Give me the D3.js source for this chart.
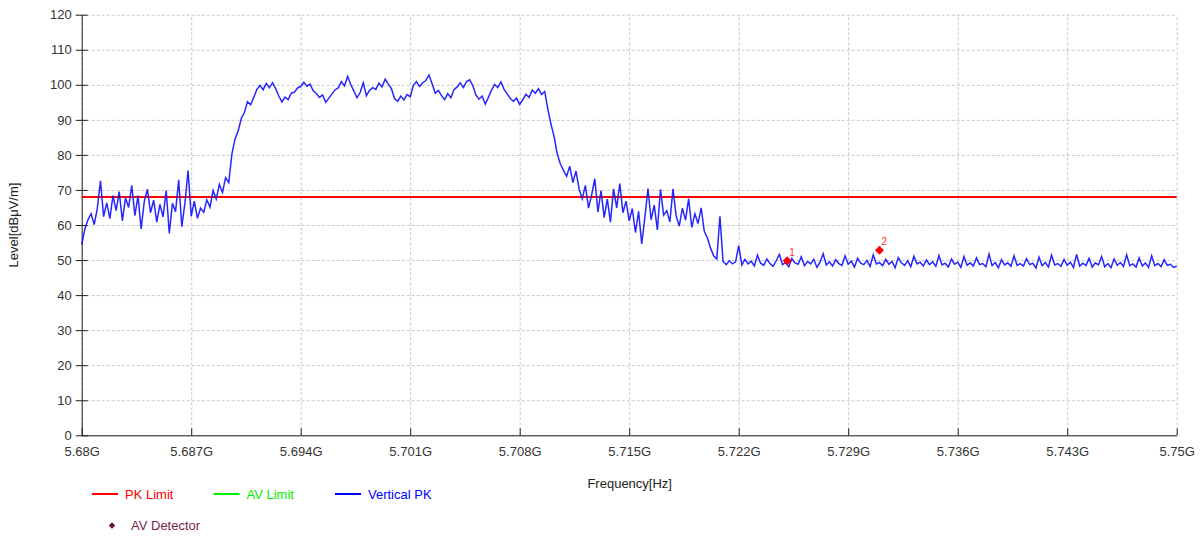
<!DOCTYPE html>
<html>
<head>
<meta charset="utf-8">
<script src="https://cdn.jsdelivr.net/npm/d3@7/dist/d3.min.js"></script>
<style>
  body { margin: 0; background: #fff; }
  svg { font-family: Arial, "Liberation Sans", sans-serif; }
</style>
</head>
<body>
<script>
// sweep: 5.680 GHz .. 5.750 GHz, one reading every 0.2 MHz
var sweepStart = 5.68;
var sweepStep = 0.0002;

// Vertical PK trace [dBuV/m]
var verticalPK = [
  54.5, 58.8, 61.5, 63.2, 60.1, 64.8, 72.6, 62.4, 66.3, 61.8,
  68.4, 64.1, 69.5, 61.2, 67.8, 65.0, 71.3, 62.7, 68.4, 58.9,
  66.7, 70.2, 63.5, 67.1, 60.8, 65.9, 62.3, 69.8, 57.6, 66.2,
  63.8, 72.9, 59.5, 66.3, 75.5, 62.5, 66.8, 61.9, 64.8, 63.6,
  67.2, 65.1, 69.8, 67.4, 71.6, 69.3, 73.5, 72.1, 80.2, 84.5,
  86.8, 90.4, 92.1, 95.2, 94.3, 96.4, 98.7, 99.8, 98.6, 100.4,
  99.2, 100.6, 98.9, 96.8, 95.1, 96.5, 95.8, 97.6, 97.9, 99.1,
  99.5, 100.7, 99.6, 100.2, 98.3, 97.5, 96.4, 97.1, 95.0, 96.2,
  97.4, 98.6, 99.1, 100.9, 99.7, 102.4, 100.1, 98.2, 96.3, 97.8,
  100.6, 96.9, 98.4, 99.2, 98.7, 100.5, 99.4, 101.6, 100.2, 98.9,
  96.1, 95.3, 96.8, 95.7, 97.2, 96.6, 99.8, 100.9, 99.5, 100.6,
  101.2, 102.8, 100.3, 97.6, 98.4, 96.9, 95.8, 97.5, 96.3, 98.6,
  99.4, 100.6, 99.2, 100.9, 101.4, 99.8, 97.1, 95.9, 96.8, 94.5,
  96.4, 98.5, 100.1, 99.2, 100.8, 98.7, 97.4, 96.1, 95.3, 96.2,
  94.4, 95.8, 97.3, 96.4, 98.5, 97.6, 98.9, 97.2, 98.1, 93.0,
  88.8, 85.2, 80.3, 77.4, 75.6, 73.9, 76.8, 72.1, 75.4, 70.2,
  67.5, 71.3, 64.8, 68.6, 73.2, 63.7, 69.8, 62.1, 67.4, 60.8,
  70.3, 64.9, 71.8, 63.5, 66.8, 61.2, 64.7, 57.8, 63.9, 54.6,
  62.1, 70.4, 61.5, 65.7, 58.6, 70.2, 62.8, 64.1, 60.9, 70.3,
  62.6, 59.7, 64.8, 61.4, 67.5, 59.3, 63.2, 60.4, 64.9, 58.2,
  56.3, 53.4, 51.2, 50.3, 62.5, 49.6, 48.7, 49.8, 48.9, 49.5,
  54.1, 48.6, 50.2, 48.9, 49.7, 48.3, 51.4, 49.1, 48.5, 50.3,
  49.0, 48.2, 49.8, 51.6, 48.7, 49.3, 48.1, 50.4, 49.2, 48.8,
  50.9, 48.4, 49.6, 48.9, 50.2, 47.9, 49.4, 51.8, 48.6, 49.5,
  48.3, 50.1, 49.0, 48.5, 51.2, 48.8, 49.7, 48.0, 50.5, 49.1,
  48.7, 49.9, 48.2, 51.5, 48.9, 49.3, 48.4, 50.2, 48.8, 49.6,
  47.8, 50.7, 49.2, 48.5, 49.8, 48.1, 51.1, 48.9, 49.4, 48.3,
  50.0, 48.7, 49.5, 48.2, 51.3, 48.6, 49.1, 48.0, 50.3, 48.8,
  49.4, 47.9, 51.0, 48.5, 49.2, 48.3, 50.6, 48.7, 49.0, 48.1,
  51.7, 48.4, 49.3, 47.8, 50.1, 48.6, 49.2, 48.2, 51.2, 48.5,
  49.0, 48.3, 50.4, 48.7, 49.1, 47.7, 50.8, 48.4, 49.3, 48.0,
  51.4, 48.6, 49.0, 48.2, 50.2, 48.5, 49.4, 47.9, 51.6, 48.3,
  49.1, 48.4, 50.5, 48.0, 49.2, 48.6, 51.0, 48.1, 49.0, 47.8,
  50.3, 48.5, 49.3, 48.2, 51.5, 48.4, 48.9, 48.0, 50.6, 48.3,
  49.2, 47.9, 51.2, 48.4, 49.0, 48.1, 50.1, 48.5, 48.8, 47.9,
  48.3
];

var pkLimit = 68;

var markerFreqs = [5.7251, 5.7310];
var markerLevels = [49.8, 52.8];
var markerNames = ["1", "2"];

var xTicks = [5.68, 5.687, 5.694, 5.701, 5.708, 5.715, 5.722, 5.729, 5.736, 5.743, 5.75];
var xTickLabels = ["5.68G", "5.687G", "5.694G", "5.701G", "5.708G", "5.715G", "5.722G", "5.729G", "5.736G", "5.743G", "5.75G"];
var yTicks = [0, 10, 20, 30, 40, 50, 60, 70, 80, 90, 100, 110, 120];

var legendNames = ["PK Limit", "AV Limit", "Vertical PK"];
var legendColors = ["#ff0000", "#00ee00", "#0000ff"];

(function() {

    var W = 1201, H = 536;
    var plotLeft = 81.7, plotRight = 1176.7, plotTop = 14.7, plotBottom = 435.3;

    var svg = d3.select("body").append("svg")
        .attr("width", W)
        .attr("height", H);

    var x = d3.scaleLinear().domain([5.68, 5.75]).range([plotLeft, plotRight]);
    var y = d3.scaleLinear().domain([0, 120]).range([plotBottom, plotTop]);

    // grid
    svg.append("g")
        .attr("transform", "translate(0," + plotBottom + ")")
        .call(d3.axisBottom(x).tickValues(xTicks).tickSize(-(plotBottom - plotTop)).tickFormat(""))
        .call(function(g) {
            g.select(".domain").remove();
            g.selectAll("line").attr("stroke", "#c8c8c8").attr("stroke-dasharray", "3,2");
        });
    svg.append("g")
        .attr("transform", "translate(" + plotLeft + ",0)")
        .call(d3.axisLeft(y).tickValues(yTicks).tickSize(-(plotRight - plotLeft)).tickFormat(""))
        .call(function(g) {
            g.select(".domain").remove();
            g.selectAll("line").attr("stroke", "#c8c8c8").attr("stroke-dasharray", "3,2");
        });

    // axes
    var yAxis = svg.append("g")
        .attr("transform", "translate(" + plotLeft + ",0)")
        .call(d3.axisLeft(y).tickValues(yTicks).tickSizeInner(6).tickSizeOuter(0).tickPadding(4));
    yAxis.selectAll(".tick line").attr("x2", 6).attr("x1", -6);

    var xAxis = svg.append("g")
        .attr("transform", "translate(0," + plotBottom + ")")
        .call(d3.axisBottom(x).tickValues(xTicks).tickSizeOuter(0).tickSizeInner(0).tickPadding(11)
            .tickFormat(function(d, i) { return xTickLabels[i]; }));
    xAxis.selectAll(".tick line").attr("y1", -7).attr("y2", 0);

    svg.selectAll(".domain").attr("stroke", "#222");
    svg.selectAll(".tick line").filter(function() { return !this.getAttribute("stroke-dasharray"); })
        .attr("stroke", "#222");
    svg.selectAll(".tick text").attr("font-size", 13).attr("fill", "#333")
        .attr("font-family", "Arial, 'Liberation Sans', sans-serif");

    // limit line
    svg.append("line")
        .attr("x1", x(5.68)).attr("x2", x(5.75))
        .attr("y1", y(pkLimit)).attr("y2", y(pkLimit))
        .attr("stroke", "#ff0000")
        .attr("stroke-width", 2);

    // trace
    var line = d3.line()
        .x(function(d, i) { return x(sweepStart + i * sweepStep); })
        .y(function(d) { return y(d); });

    svg.append("path")
        .datum(verticalPK)
        .attr("d", line)
        .attr("fill", "none")
        .attr("stroke", "#0000ff")
        .attr("stroke-opacity", 0.85)
        .attr("stroke-width", 1.5);

    // markers
    var mk = svg.selectAll(".marker").data(markerFreqs).enter().append("g")
        .attr("class", "marker")
        .attr("transform", function(d, i) { return "translate(" + x(d) + "," + y(markerLevels[i]) + ")"; });
    mk.append("path")
        .attr("d", d3.symbol().type(d3.symbolSquare).size(40))
        .attr("transform", "rotate(45)")
        .attr("fill", "#ff0000");
    mk.append("text")
        .attr("x", 2).attr("y", -5)
        .attr("font-size", 10)
        .attr("fill", "#ff3030")
        .text(function(d, i) { return markerNames[i]; });

    // axis titles
    svg.append("text")
        .attr("x", (plotLeft + plotRight) / 2 + 0.5)
        .attr("y", 488)
        .attr("text-anchor", "middle")
        .attr("font-size", 13)
        .attr("fill", "#222")
        .text("Frequency[Hz]");

    svg.append("text")
        .attr("transform", "translate(18," + ((plotTop + plotBottom) / 2) + ") rotate(-90)")
        .attr("text-anchor", "middle")
        .attr("font-size", 13)
        .attr("fill", "#222")
        .text("Level[dB\u03bcV/m]");

    // legend
    var lg = svg.selectAll(".lg").data(legendNames).enter().append("g")
        .attr("class", "lg")
        .attr("transform", function(d, i) { return "translate(" + (92 + i * 121.5) + ",494)"; });
    lg.append("line")
        .attr("x1", 0).attr("x2", 26)
        .attr("stroke", function(d, i) { return legendColors[i]; })
        .attr("stroke-width", 2);
    lg.append("text")
        .attr("x", 33).attr("y", 4.5)
        .attr("font-size", 13)
        .attr("fill", function(d, i) { return legendColors[i]; })
        .text(function(d) { return d; });

    var av = svg.append("g").attr("transform", "translate(112,525.5)");
    av.append("path")
        .attr("d", d3.symbol().type(d3.symbolSquare).size(20))
        .attr("transform", "rotate(45)")
        .attr("fill", "#6b0f3a");
    av.append("text")
        .attr("x", 19).attr("y", 4.5)
        .attr("font-size", 13)
        .attr("fill", "#7a1f4c")
        .text("AV Detector");

})();
</script>
</body>
</html>
